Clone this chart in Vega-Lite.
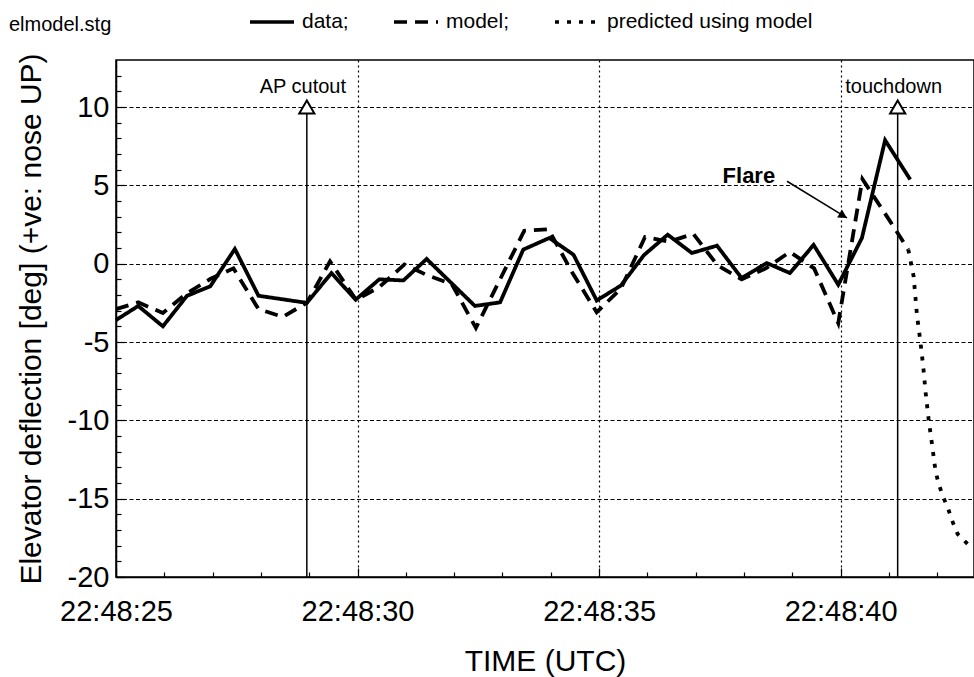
{
  "$schema": "https://vega.github.io/schema/vega-lite/v6.json",
  "width": 858,
  "height": 517,
  "autosize": {"type": "none"},
  "padding": {"left": 116, "top": 60, "right": 0, "bottom": 100},
  "background": "white",
  "config": {
    "font": "Liberation Sans",
    "view": {"stroke": "black", "strokeWidth": 1.5},
    "axis": {"domainColor": "black", "tickColor": "black", "labelColor": "black", "titleColor": "black", "labelFont": "Liberation Sans", "titleFont": "Liberation Sans"}
  },
  "datasets": {
    "series": [
      {"series": "data", "t": 25.0, "v": -3.6},
      {"series": "data", "t": 25.46, "v": -2.7},
      {"series": "data", "t": 25.97, "v": -4.0},
      {"series": "data", "t": 26.47, "v": -2.05},
      {"series": "data", "t": 26.95, "v": -1.45},
      {"series": "data", "t": 27.46, "v": 0.94},
      {"series": "data", "t": 27.95, "v": -2.05},
      {"series": "data", "t": 28.95, "v": -2.5},
      {"series": "data", "t": 29.46, "v": -0.6},
      {"series": "data", "t": 29.96, "v": -2.3},
      {"series": "data", "t": 30.45, "v": -1.0},
      {"series": "data", "t": 30.95, "v": -1.07},
      {"series": "data", "t": 31.43, "v": 0.3},
      {"series": "data", "t": 32.43, "v": -2.7},
      {"series": "data", "t": 32.95, "v": -2.47},
      {"series": "data", "t": 33.43, "v": 0.9},
      {"series": "data", "t": 33.97, "v": 1.64},
      {"series": "data", "t": 34.47, "v": 0.57},
      {"series": "data", "t": 34.95, "v": -2.35},
      {"series": "data", "t": 35.45, "v": -1.4},
      {"series": "data", "t": 35.93, "v": 0.55},
      {"series": "data", "t": 36.42, "v": 1.85},
      {"series": "data", "t": 36.92, "v": 0.68},
      {"series": "data", "t": 37.44, "v": 1.15},
      {"series": "data", "t": 37.95, "v": -0.92},
      {"series": "data", "t": 38.47, "v": 0.04},
      {"series": "data", "t": 38.95, "v": -0.6},
      {"series": "data", "t": 39.44, "v": 1.2},
      {"series": "data", "t": 39.95, "v": -1.34},
      {"series": "data", "t": 40.44, "v": 1.64},
      {"series": "data", "t": 40.92, "v": 7.88},
      {"series": "data", "t": 41.44, "v": 5.37},
      {"series": "model", "t": 25.0, "v": -2.9},
      {"series": "model", "t": 25.46, "v": -2.47},
      {"series": "model", "t": 25.97, "v": -3.15},
      {"series": "model", "t": 26.46, "v": -1.9},
      {"series": "model", "t": 26.95, "v": -0.98},
      {"series": "model", "t": 27.43, "v": -0.3},
      {"series": "model", "t": 27.95, "v": -2.9},
      {"series": "model", "t": 28.45, "v": -3.4},
      {"series": "model", "t": 28.95, "v": -2.5},
      {"series": "model", "t": 29.43, "v": 0.15},
      {"series": "model", "t": 29.97, "v": -2.3},
      {"series": "model", "t": 30.45, "v": -1.5},
      {"series": "model", "t": 30.97, "v": -0.05},
      {"series": "model", "t": 31.45, "v": -0.75},
      {"series": "model", "t": 31.95, "v": -1.3},
      {"series": "model", "t": 32.45, "v": -4.1},
      {"series": "model", "t": 32.95, "v": -1.0},
      {"series": "model", "t": 33.45, "v": 2.1},
      {"series": "model", "t": 33.95, "v": 2.2},
      {"series": "model", "t": 34.45, "v": -0.6},
      {"series": "model", "t": 34.95, "v": -3.1},
      {"series": "model", "t": 35.45, "v": -1.6},
      {"series": "model", "t": 35.95, "v": 1.7},
      {"series": "model", "t": 36.45, "v": 1.4},
      {"series": "model", "t": 36.95, "v": 1.9},
      {"series": "model", "t": 37.45, "v": -0.1},
      {"series": "model", "t": 37.95, "v": -1.0},
      {"series": "model", "t": 38.45, "v": -0.3},
      {"series": "model", "t": 38.95, "v": 0.75},
      {"series": "model", "t": 39.45, "v": -0.3},
      {"series": "model", "t": 39.95, "v": -3.8},
      {"series": "model", "t": 40.45, "v": 5.4},
      {"series": "model", "t": 40.95, "v": 3.05},
      {"series": "model", "t": 41.40, "v": 0.9},
      {"series": "predicted using model", "t": 41.40, "v": 0.9},
      {"series": "predicted using model", "t": 41.51, "v": -0.8},
      {"series": "predicted using model", "t": 41.58, "v": -3.3},
      {"series": "predicted using model", "t": 41.65, "v": -4.96},
      {"series": "predicted using model", "t": 41.71, "v": -6.6},
      {"series": "predicted using model", "t": 41.76, "v": -8.26},
      {"series": "predicted using model", "t": 41.82, "v": -9.92},
      {"series": "predicted using model", "t": 41.89, "v": -11.5},
      {"series": "predicted using model", "t": 41.96, "v": -13.16},
      {"series": "predicted using model", "t": 42.02, "v": -13.97},
      {"series": "predicted using model", "t": 42.11, "v": -14.8},
      {"series": "predicted using model", "t": 42.22, "v": -15.6},
      {"series": "predicted using model", "t": 42.32, "v": -16.5},
      {"series": "predicted using model", "t": 42.42, "v": -17.25},
      {"series": "predicted using model", "t": 42.63, "v": -17.9},
      {"series": "predicted using model", "t": 42.74, "v": -18.1}
    ],
    "events": [
      {"t": 28.95, "label": "AP cutout"},
      {"t": 41.18, "label": "touchdown"}
    ],
    "flare": [{"t": 38.1, "v": 5.6, "label": "Flare"}],
    "arrow": [{"t": 38.89, "v": 5.26}, {"t": 40.13, "v": 2.92}],
    "arrowhead": [{"t": 40.13, "v": 2.92}]
  },
  "resolve": {"axis": {"x": "independent", "y": "independent"}},
  "layer": [
    {
      "data": {"name": "series"},
      "mark": {"type": "line", "strokeWidth": 3.8, "color": "black"},
      "encoding": {
        "x": {
          "field": "t", "type": "quantitative",
          "scale": {"domain": [25, 42.76], "nice": false, "zero": false},
          "axis": {
            "orient": "bottom",
            "values": [25, 30, 35, 40],
            "labelExpr": "'22:48:' + format(datum.value, '02d')",
            "labelFontSize": 29, "labelPadding": 29, "labelFlush": false,
            "tickSize": -9, "tickWidth": 1.2, "domainWidth": 1.5,
            "grid": true, "gridDash": [2, 3], "gridColor": "black", "gridWidth": 1.2, "gridOpacity": 1,
            "title": "TIME (UTC)", "titleFontSize": 30, "titleFontWeight": "normal", "titlePadding": 20
          }
        },
        "y": {
          "field": "v", "type": "quantitative",
          "scale": {"domain": [-20, 13], "nice": false, "zero": false},
          "axis": {
            "orient": "left",
            "values": [-20, -15, -10, -5, 0, 5, 10],
            "labelExpr": "datum.value < 0 ? '-' + abs(datum.value) : '' + datum.value",
            "labelFontSize": 29, "labelPadding": 16,
            "tickSize": -9, "tickWidth": 1.2, "domainWidth": 1.5,
            "grid": true, "gridDash": [4, 2.5], "gridColor": "black", "gridWidth": 1.2, "gridOpacity": 1,
            "title": "Elevator deflection [deg] (+ve: nose UP)", "titleFontSize": 30, "titleFontWeight": "normal", "titlePadding": 21
          }
        },
        "strokeDash": {
          "field": "series", "type": "nominal",
          "scale": {"domain": ["data", "model", "predicted using model"], "range": [[1, 0], [13, 8], [4, 8]]},
          "legend": {
            "title": "elmodel.stg", "titleOrient": "left", "titleFontSize": 20, "titleFontWeight": "normal", "titleColor": "black", "titleFont": "Liberation Sans", "titlePadding": 136, "titleBaseline": "top",
            "orient": "none", "legendX": -107, "legendY": -62, "direction": "horizontal",
            "symbolType": "stroke", "symbolSize": 1936, "symbolStrokeWidth": 3.5, "symbolStrokeColor": "black",
            "labelFontSize": 21, "labelColor": "black", "labelFont": "Liberation Sans", "labelOffset": 6, "columnPadding": 38, "labelLimit": 400,
            "labelExpr": "datum.label == 'predicted using model' ? datum.label : datum.label + ';'"
          }
        }
      }
    },
    {
      "data": {"name": "series"},
      "mark": {"type": "point", "opacity": 0},
      "encoding": {
        "x": {
          "field": "t", "type": "quantitative",
          "scale": {"domain": [25, 42.76], "nice": false, "zero": false},
          "axis": {"orient": "bottom", "values": [26, 27, 28, 29, 31, 32, 33, 34, 36, 37, 38, 39, 41, 42], "labels": false, "tickSize": -5, "tickWidth": 1.2, "domain": false, "grid": false, "title": null}
        },
        "y": {
          "field": "v", "type": "quantitative",
          "scale": {"domain": [-20, 13], "nice": false, "zero": false},
          "axis": {"orient": "left", "values": [-19, -18, -17, -16, -14, -13, -12, -11, -9, -8, -7, -6, -4, -3, -2, -1, 1, 2, 3, 4, 6, 7, 8, 9, 11, 12], "labels": false, "tickSize": -5, "tickWidth": 1.2, "domain": false, "grid": false, "title": null}
        }
      }
    },
    {
      "data": {"name": "events"},
      "mark": {"type": "rule", "color": "black", "strokeWidth": 1.5},
      "encoding": {
        "x": {"field": "t", "type": "quantitative", "scale": {"domain": [25, 42.76], "nice": false, "zero": false}, "axis": null},
        "y": {"datum": 10, "type": "quantitative", "scale": {"domain": [-20, 13], "nice": false, "zero": false}, "axis": null},
        "y2": {"datum": -20}
      }
    },
    {
      "data": {"name": "events"},
      "mark": {"type": "point", "shape": "triangle-up", "size": 230, "filled": true, "fill": "white", "stroke": "black", "strokeWidth": 2, "opacity": 1},
      "encoding": {
        "x": {"field": "t", "type": "quantitative", "scale": {"domain": [25, 42.76], "nice": false, "zero": false}, "axis": null},
        "y": {"datum": 10, "type": "quantitative", "scale": {"domain": [-20, 13], "nice": false, "zero": false}, "axis": null}
      }
    },
    {
      "data": {"name": "events"},
      "mark": {"type": "text", "fontSize": 20, "dy": -20, "dx": -4, "align": "center", "baseline": "middle", "color": "black", "font": "Liberation Sans"},
      "encoding": {
        "x": {"field": "t", "type": "quantitative", "scale": {"domain": [25, 42.76], "nice": false, "zero": false}, "axis": null},
        "y": {"datum": 10, "type": "quantitative", "scale": {"domain": [-20, 13], "nice": false, "zero": false}, "axis": null},
        "text": {"field": "label"}
      }
    },
    {
      "data": {"name": "flare"},
      "mark": {"type": "text", "fontSize": 22, "fontWeight": "bold", "align": "center", "baseline": "middle", "color": "black", "font": "Liberation Sans"},
      "encoding": {
        "x": {"field": "t", "type": "quantitative", "scale": {"domain": [25, 42.76], "nice": false, "zero": false}, "axis": null},
        "y": {"field": "v", "type": "quantitative", "scale": {"domain": [-20, 13], "nice": false, "zero": false}, "axis": null},
        "text": {"field": "label"}
      }
    },
    {
      "data": {"name": "arrow"},
      "mark": {"type": "line", "color": "black", "strokeWidth": 1.5},
      "encoding": {
        "x": {"field": "t", "type": "quantitative", "scale": {"domain": [25, 42.76], "nice": false, "zero": false}, "axis": null},
        "y": {"field": "v", "type": "quantitative", "scale": {"domain": [-20, 13], "nice": false, "zero": false}, "axis": null}
      }
    },
    {
      "data": {"name": "arrowhead"},
      "mark": {"type": "point", "shape": "M-1,-0.55L0,0L-1,0.55Z", "size": 300, "angle": 31, "filled": true, "color": "black", "opacity": 1},
      "encoding": {
        "x": {"field": "t", "type": "quantitative", "scale": {"domain": [25, 42.76], "nice": false, "zero": false}, "axis": null},
        "y": {"field": "v", "type": "quantitative", "scale": {"domain": [-20, 13], "nice": false, "zero": false}, "axis": null}
      }
    }
  ]
}
